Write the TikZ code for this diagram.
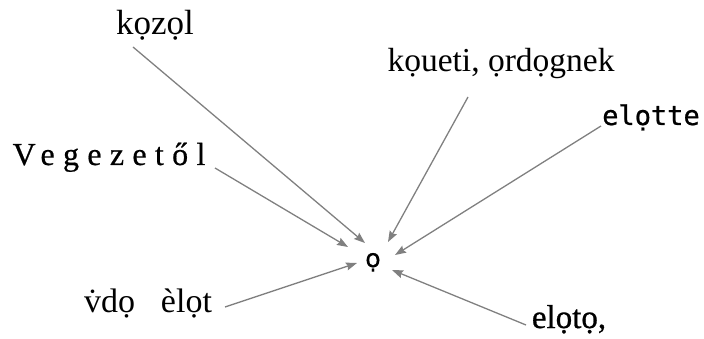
\documentclass[tikz,border=0pt]{standalone}
\usepackage{fontspec}
\setmainfont{Liberation Serif}
\newfontfamily\spacedserif[LetterSpace=26,FakeBold=0.6]{Liberation Serif}
\newfontfamily\heavyserif[FakeBold=0.8]{Liberation Serif}
\newfontfamily\monofam[FakeBold=0.8]{DejaVu Sans Mono}
\newfontfamily\sansfam[FakeBold=0.6]{DejaVu Sans}
\usetikzlibrary{arrows.meta}
\definecolor{arrowgray}{RGB}{128,128,128}
\tikzset{
  word/.style={inner sep=0pt, anchor=base},
  pointer/.style={draw=arrowgray, line width=1.3pt,
    -{Stealth[length=11pt,width=8pt,inset=1.5pt]}}
}
\begin{document}
\begin{tikzpicture}[x=1pt,y=-1pt]
  \useasboundingbox (0,0) rectangle (704,339);

  % central glyph
  \node[word] (hub) at (373,267) {\sansfam\fontsize{25}{30}\selectfont ọ};

  % surrounding labels
  \node[word] (kozol) at (155,35) {\fontsize{35}{38}\selectfont kọzọl};
  \node[word] (koueti) at (501,72) {\fontsize{33.5}{38}\selectfont kọueti, ọrdọgnek};
  \node[word] (elotte) at (651,125) {\monofam\fontsize{27}{32}\selectfont elọtte};
  \node[word] (vegezet) at (109,165) {\spacedserif\fontsize{32}{36}\selectfont Vegezetől};
  \node[word] (vdo) at (148,312) {\fontsize{34}{38}\selectfont v̇dọ\hspace{26pt}èlọt};
  \node[word] (eloto) at (569,328) {\heavyserif\fontsize{33}{38}\selectfont elọtọ,};

  % arrow tails next to the labels
  \coordinate (t1) at (133,47);
  \coordinate (t2) at (468,97);
  \coordinate (t3) at (601,126);
  \coordinate (t4) at (215,168);
  \coordinate (t5) at (225,307);
  \coordinate (t6) at (526,325);

  % arrow tips around the hub
  \coordinate (h1) at (365,243);
  \coordinate (h2) at (388,242);
  \coordinate (h3) at (395,255);
  \coordinate (h4) at (348,247);
  \coordinate (h5) at (357,263);
  \coordinate (h6) at (392,270);

  \draw[pointer] (t1) -- (h1);
  \draw[pointer] (t2) -- (h2);
  \draw[pointer] (t3) -- (h3);
  \draw[pointer] (t4) -- (h4);
  \draw[pointer] (t5) -- (h5);
  \draw[pointer] (t6) -- (h6);
\end{tikzpicture}
\end{document}
